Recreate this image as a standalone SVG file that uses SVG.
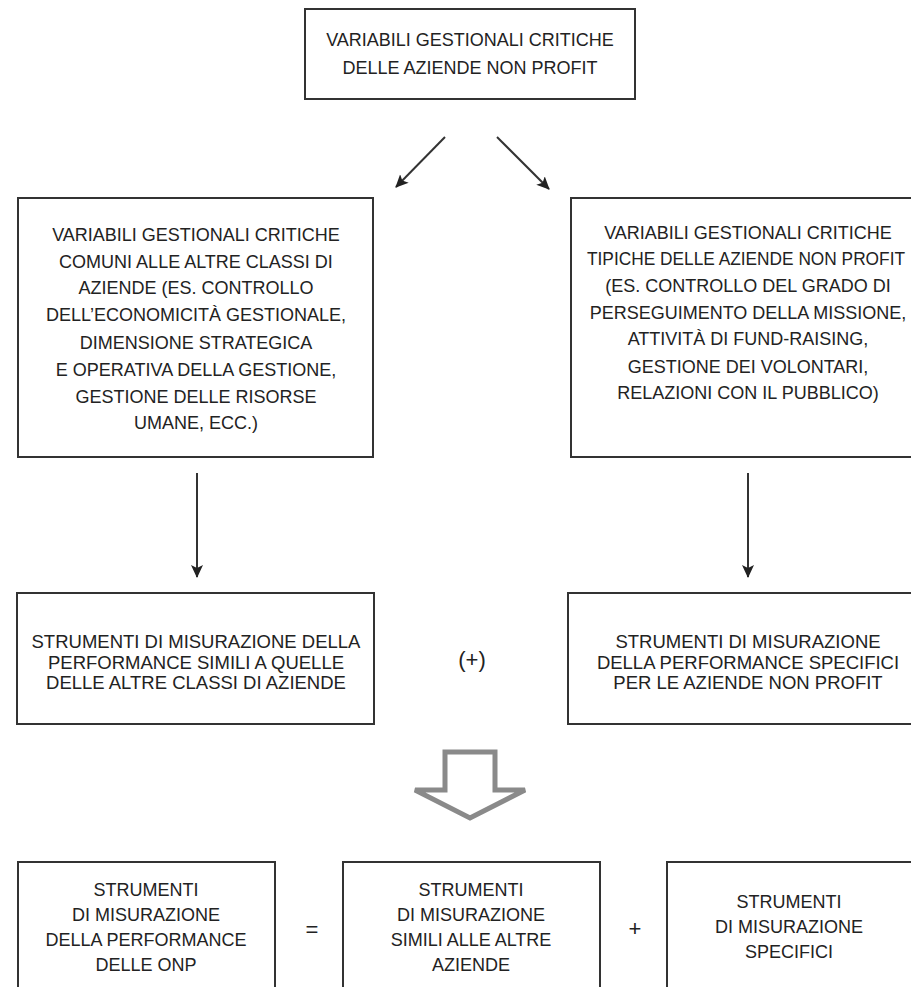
<svg xmlns="http://www.w3.org/2000/svg" width="911" height="987" viewBox="0 0 911 987">
<defs>
<marker id="ah" markerWidth="14" markerHeight="14" refX="12" refY="6" orient="auto" markerUnits="userSpaceOnUse">
<path d="M0,0 L13,6 L0,12 L3,6 Z" fill="#222"/>
</marker>
<style>
.box{fill:#fff;stroke:#333;stroke-width:2}
.t{font-family:"Liberation Sans",Arial,sans-serif;font-size:18px;fill:#222;text-anchor:middle}
.s{font-size:18.5px}
.c{stroke:#333;stroke-width:2;fill:none;marker-end:url(#ah)}
</style>
</defs>
<rect width="911" height="987" fill="#fff"/>

<g id="top">
<rect class="box" x="305" y="9" width="330" height="90"/>
<text class="t" x="470" y="46">VARIABILI GESTIONALI CRITICHE</text>
<text class="t" x="470" y="74">DELLE AZIENDE NON PROFIT</text>
</g>

<g id="mid-left">
<rect class="box" x="18" y="198" width="355" height="259"/>
<text class="t" x="196" y="241">VARIABILI GESTIONALI CRITICHE</text>
<text class="t" x="196" y="268">COMUNI ALLE ALTRE CLASSI DI</text>
<text class="t" x="196" y="294">AZIENDE (ES. CONTROLLO</text>
<text class="t" x="196" y="321">DELL’ECONOMICITÀ GESTIONALE,</text>
<text class="t" x="196" y="349">DIMENSIONE STRATEGICA</text>
<text class="t" x="196" y="376">E OPERATIVA DELLA GESTIONE,</text>
<text class="t" x="196" y="403">GESTIONE DELLE RISORSE</text>
<text class="t" x="196" y="429">UMANE, ECC.)</text>
</g>

<g id="mid-right">
<rect class="box" x="571" y="198" width="355" height="259"/>
<text class="t" x="748" y="239">VARIABILI GESTIONALI CRITICHE</text>
<text class="t" x="746" y="265" textLength="318" lengthAdjust="spacingAndGlyphs">TIPICHE DELLE AZIENDE NON PROFIT</text>
<text class="t" x="748" y="292">(ES. CONTROLLO DEL GRADO DI</text>
<text class="t" x="748" y="319">PERSEGUIMENTO DELLA MISSIONE,</text>
<text class="t" x="748" y="345">ATTIVITÀ DI FUND-RAISING,</text>
<text class="t" x="748" y="373">GESTIONE DEI VOLONTARI,</text>
<text class="t" x="748" y="399">RELAZIONI CON IL PUBBLICO)</text>
</g>

<g id="low-left">
<rect class="box" x="17" y="593" width="357" height="131"/>
<text class="t s" x="196" y="648">STRUMENTI DI MISURAZIONE DELLA</text>
<text class="t s" x="196" y="669">PERFORMANCE SIMILI A QUELLE</text>
<text class="t s" x="196" y="689">DELLE ALTRE CLASSI DI AZIENDE</text>
</g>

<g id="plus-mid">
<text class="t" x="472" y="667" style="font-size:22px">(+)</text>
</g>

<g id="low-right">
<rect class="box" x="568" y="593" width="360" height="131"/>
<text class="t s" x="748" y="648">STRUMENTI DI MISURAZIONE</text>
<text class="t s" x="748" y="669">DELLA PERFORMANCE SPECIFICI</text>
<text class="t s" x="748" y="689">PER LE AZIENDE NON PROFIT</text>
</g>

<g id="big-arrow">
<path d="M445,752 L495,752 L495,790 L525,790 L470,818 L415,790 L445,790 Z" fill="#fff" stroke="#8a8a8a" stroke-width="5" stroke-linejoin="miter"/>
</g>

<g id="bottom-1">
<rect class="box" x="18" y="862" width="257" height="140"/>
<text class="t" x="146" y="896">STRUMENTI</text>
<text class="t" x="146" y="921">DI MISURAZIONE</text>
<text class="t" x="146" y="946">DELLA PERFORMANCE</text>
<text class="t" x="146" y="971">DELLE ONP</text>
</g>

<g id="equals">
<text class="t" x="312" y="937" style="font-size:22px">=</text>
</g>

<g id="bottom-2">
<rect class="box" x="343" y="862" width="257" height="140"/>
<text class="t" x="471" y="896">STRUMENTI</text>
<text class="t" x="471" y="921">DI MISURAZIONE</text>
<text class="t" x="471" y="946">SIMILI ALLE ALTRE</text>
<text class="t" x="471" y="971">AZIENDE</text>
</g>

<g id="plus">
<text class="t" x="635" y="936" style="font-size:22px">+</text>
</g>

<g id="bottom-3">
<rect class="box" x="667" y="862" width="260" height="140"/>
<text class="t" x="789" y="908">STRUMENTI</text>
<text class="t" x="789" y="933">DI MISURAZIONE</text>
<text class="t" x="789" y="958">SPECIFICI</text>
</g>

<g id="connectors">
<line class="c" x1="445" y1="137" x2="396" y2="187"/>
<line class="c" x1="497" y1="137" x2="549" y2="189"/>
<line class="c" x1="197" y1="473" x2="197" y2="577"/>
<line class="c" x1="748" y1="473" x2="748" y2="577"/>
</g>
</svg>
